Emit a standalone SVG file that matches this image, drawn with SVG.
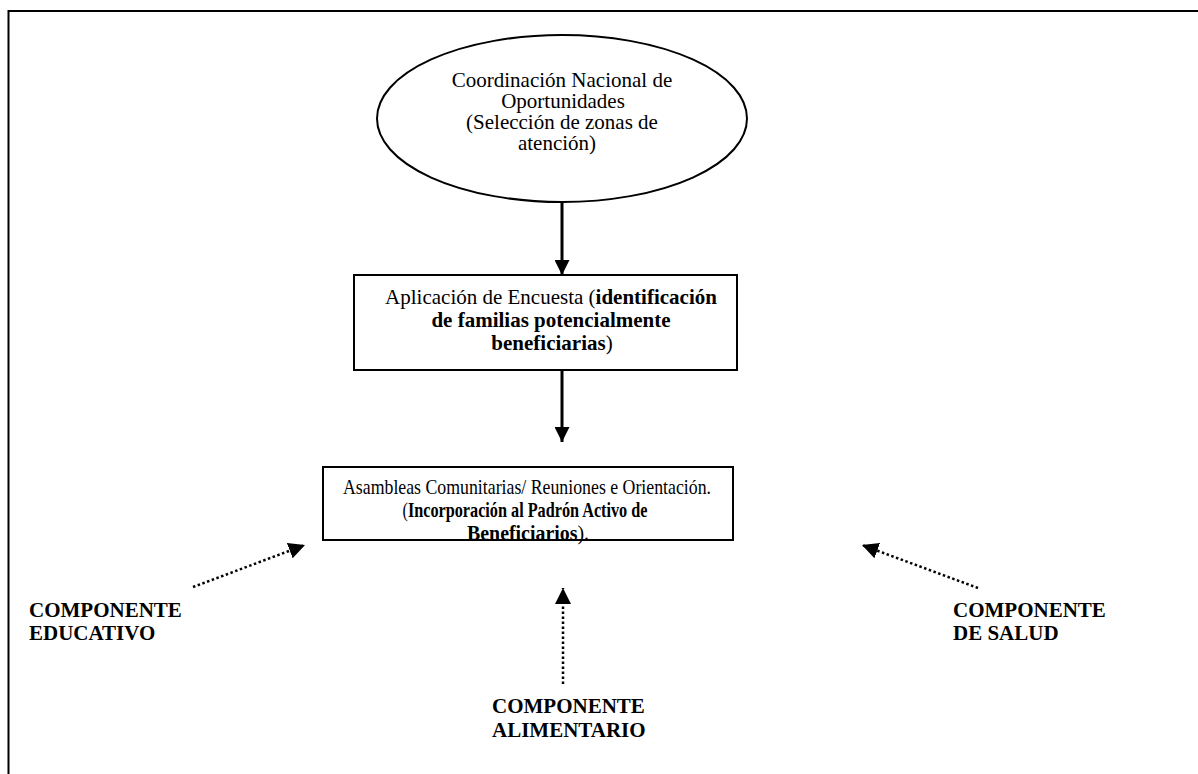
<svg xmlns="http://www.w3.org/2000/svg" width="1198" height="774" viewBox="0 0 1198 774">
<style>
text{font-family:"Liberation Serif","Times New Roman",serif;font-size:21px;fill:#000}
.c{text-anchor:middle}
.b{font-weight:bold}
.shape{fill:#fff;stroke:#000;stroke-width:2}
.solid{stroke:#000;stroke-width:3;fill:none}
.dot{stroke:#000;stroke-width:2.5;fill:none;stroke-dasharray:2.5 2.5}
</style>
<defs>
<marker id="ah" viewBox="0 0 10 10" refX="10" refY="5" markerWidth="5" markerHeight="5" orient="auto" markerUnits="strokeWidth"><path d="M0,0 L10,5 L0,10 Z" fill="#000"/></marker>
<marker id="ahd" viewBox="0 0 10 10" refX="10" refY="5" markerWidth="6.5" markerHeight="6.5" orient="auto" markerUnits="strokeWidth"><path d="M0,0 L10,5 L0,10 Z" fill="#000"/></marker>
</defs>
<path d="M8.5,774 V11 H1198" fill="none" stroke="#000" stroke-width="2"/>
<g id="connectors">
<line class="solid" x1="562" y1="202" x2="562" y2="275" marker-end="url(#ah)"/>
<line class="solid" x1="562" y1="370" x2="562" y2="442" marker-end="url(#ah)"/>
<line class="dot" x1="193" y1="587" x2="305" y2="545" marker-end="url(#ahd)"/>
<line class="dot" x1="563" y1="684" x2="563" y2="588" marker-end="url(#ahd)"/>
<line class="dot" x1="978" y1="588" x2="862" y2="545" marker-end="url(#ahd)"/>
</g>
<g id="coordinacion">
<ellipse class="shape" cx="562" cy="118.5" rx="185" ry="83.5"/>
<text class="c" x="562" y="87">Coordinación Nacional de</text>
<text class="c" x="563" y="108">Oportunidades</text>
<text class="c" x="562" y="129">(Selección de zonas de</text>
<text class="c" x="557" y="150">atención)</text>
</g>
<g id="encuesta">
<rect class="shape" x="354" y="275" width="383" height="95"/>
<text class="c" x="551" y="304">Aplicación de Encuesta (<tspan class="b">identificación</tspan></text>
<text class="c b" x="551" y="327">de familias potencialmente</text>
<text class="c" x="552" y="350"><tspan class="b">beneficiarias</tspan>)</text>
</g>
<g id="asambleas">
<rect class="shape" x="323" y="467" width="410" height="73"/>
<text class="c" x="527" y="494" textLength="368" lengthAdjust="spacingAndGlyphs">Asambleas Comunitarias/ Reuniones e Orientación.</text>
<text class="c" x="525" y="517" textLength="245" lengthAdjust="spacingAndGlyphs">(<tspan class="b">Incorporación al Padrón Activo de</tspan></text>
<text class="c" x="528" y="540" textLength="122" lengthAdjust="spacingAndGlyphs"><tspan class="b">Beneficiarios</tspan>).</text>
</g>
<g id="educativo">
<text class="b" x="29" y="617">COMPONENTE</text>
<text class="b" x="29" y="640">EDUCATIVO</text>
</g>
<g id="alimentario">
<text class="b" x="492" y="713">COMPONENTE</text>
<text class="b" x="492" y="737">ALIMENTARIO</text>
</g>
<g id="salud">
<text class="b" x="953" y="617">COMPONENTE</text>
<text class="b" x="953" y="640">DE SALUD</text>
</g>
</svg>
